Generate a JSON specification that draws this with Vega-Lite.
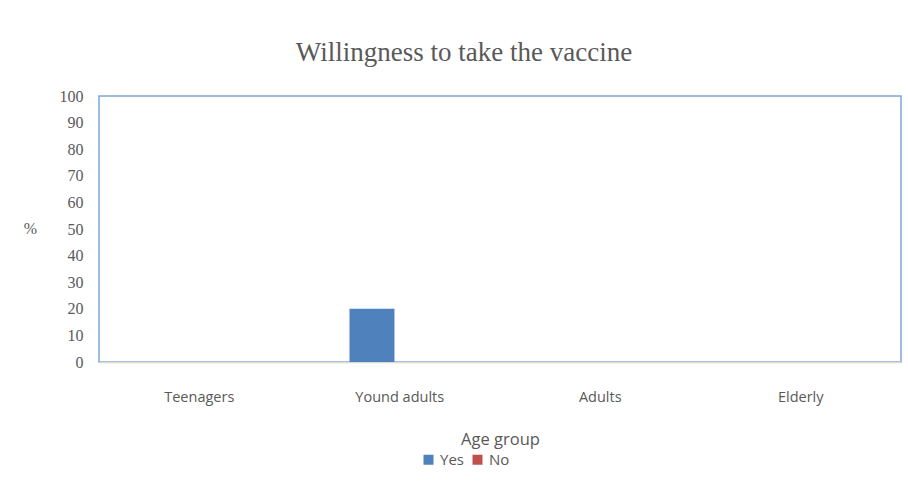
{
  "$schema": "https://vega.github.io/schema/vega-lite/v6.json",
  "width": 802,
  "height": 266,
  "autosize": {"type": "none"},
  "padding": {"left": 99, "top": 96, "right": 7, "bottom": 121},
  "background": "white",
  "title": {
    "text": "Willingness to take the vaccine",
    "font": "Liberation Serif",
    "fontSize": 27,
    "fontWeight": "normal",
    "color": "#595959",
    "anchor": "middle",
    "dx": -36,
    "offset": 21
  },
  "data": {
    "values": [
      {"group": "Teenagers", "answer": "Yes", "pct": 0},
      {"group": "Teenagers", "answer": "No", "pct": 0},
      {"group": "Yound adults", "answer": "Yes", "pct": 20},
      {"group": "Yound adults", "answer": "No", "pct": 0},
      {"group": "Adults", "answer": "Yes", "pct": 0},
      {"group": "Adults", "answer": "No", "pct": 0},
      {"group": "Elderly", "answer": "Yes", "pct": 0},
      {"group": "Elderly", "answer": "No", "pct": 0}
    ]
  },
  "mark": {"type": "bar"},
  "encoding": {
    "x": {
      "field": "group",
      "type": "nominal",
      "sort": ["Teenagers", "Yound adults", "Adults", "Elderly"],
      "scale": {"paddingInner": 0, "paddingOuter": 0},
      "axis": {
        "title": "Age group",
        "labelAngle": 0,
        "ticks": false,
        "domainColor": "#D9D9D9",
        "domainWidth": 1.5,
        "labelFont": "Open Sans",
        "labelFontSize": 14.5,
        "labelColor": "#595959",
        "labelPadding": 28,
        "titleFont": "Open Sans",
        "titleFontSize": 16.5,
        "titleFontWeight": "normal",
        "titleColor": "#595959",
        "titlePadding": 28
      }
    },
    "xOffset": {
      "field": "answer",
      "type": "nominal",
      "sort": ["Yes", "No"],
      "scale": {"paddingInner": 0.19, "paddingOuter": 0.9}
    },
    "y": {
      "field": "pct",
      "type": "quantitative",
      "scale": {"domain": [0, 100]},
      "axis": {
        "title": "%",
        "titleAngle": 0,
        "titleX": -69,
        "titleY": 140,
        "titleFont": "Liberation Serif",
        "titleFontSize": 16,
        "titleFontWeight": "normal",
        "titleColor": "#595959",
        "values": [0, 10, 20, 30, 40, 50, 60, 70, 80, 90, 100],
        "grid": false,
        "ticks": false,
        "domain": false,
        "labelFont": "Liberation Serif",
        "labelFontSize": 16,
        "labelColor": "#595959",
        "labelPadding": 16
      }
    },
    "color": {
      "field": "answer",
      "type": "nominal",
      "sort": ["Yes", "No"],
      "scale": {"domain": ["Yes", "No"], "range": ["#4F81BD", "#C0504D"]},
      "legend": {
        "title": null,
        "orient": "none",
        "direction": "horizontal",
        "legendX": 322,
        "legendY": 356,
        "symbolType": "square",
        "symbolSize": 100,
        "symbolStrokeWidth": 0,
        "labelFont": "Open Sans",
        "labelFontSize": 15,
        "labelColor": "#595959",
        "columnPadding": 6,
        "labelOffset": 4
      }
    }
  },
  "config": {
    "view": {"stroke": "#7FA6D8", "strokeWidth": 1.5}
  }
}
